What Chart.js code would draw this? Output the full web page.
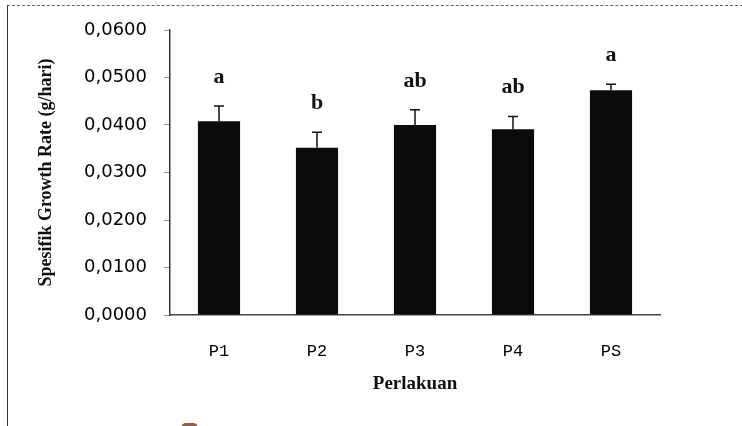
<!DOCTYPE html>
<html>
<head>
<meta charset="utf-8" />
<title>Perlakuan</title>
<script src="https://cdn.jsdelivr.net/npm/chart.js@4"></script>
<style>
  body { margin: 0; background: #fff; }
  #bingkai { position: absolute; left: 7px; top: 5px; width: 740px; height: 430px;
             border-left: 1px solid #333; border-top: 1px dashed #666; }
  #kotak { position: absolute; left: 181px; top: 423px; width: 17px; height: 10px;
           background: #a0583a; border-radius: 5px 5px 0 0; }
  #wadah { position: absolute; left: 0; top: 0; width: 742px; height: 426px; }
</style>
<script>
  // data dari gambar
  let perlakuan = ["P1", "P2", "P3", "P4", "PS"];
  let rataan = [0.0408, 0.0352, 0.0400, 0.0391, 0.0473];
  let galat = [0.0032, 0.0033, 0.0032, 0.0027, 0.0013];
  let notasi = ["a", "b", "ab", "ab", "a"];

  // galat baku + huruf notasi di atas batang
  let tambahan = {
    id: "tambahan",
    afterDatasetsDraw(chart) {
      let ctx = chart.ctx;
      let y = chart.scales.y;
      let meta = chart.getDatasetMeta(0);
      ctx.save();
      ctx.strokeStyle = "#111";
      ctx.lineWidth = 1.5;
      meta.data.forEach((bar, i) => {
        let atas = y.getPixelForValue(rataan[i] + galat[i]);
        ctx.beginPath();
        ctx.moveTo(bar.x, bar.y);
        ctx.lineTo(bar.x, atas);
        ctx.moveTo(bar.x - 5, atas);
        ctx.lineTo(bar.x + 5, atas);
        ctx.stroke();
      });
      ctx.fillStyle = "#111";
      ctx.font = "bold 22px 'Liberation Serif'";
      ctx.textAlign = "center";
      ctx.textBaseline = "alphabetic";
      meta.data.forEach((bar, i) => {
        let atas = y.getPixelForValue(rataan[i] + galat[i]);
        ctx.fillText(notasi[i], bar.x, atas - 23);
      });
      ctx.restore();
    }
  };

  window.onload = function () {
    new Chart(document.getElementById("joonis"), {
      type: "bar",
      data: {
        labels: perlakuan,
        datasets: [{
          data: rataan,
          backgroundColor: "#0b0b0b",
          borderWidth: 0,
          categoryPercentage: 1,
          barPercentage: 0.43
        }]
      },
      options: {
        responsive: false,
        animation: false,
        layout: { padding: { left: 36, top: 30, right: 82, bottom: 27 } },
        plugins: { legend: { display: false }, tooltip: { enabled: false } },
        scales: {
          y: {
            min: 0, max: 0.06,
            afterFit(s) { s.width = 134; },
            ticks: {
              stepSize: 0.01,
              padding: 17,
              color: "#000",
              font: { family: "'DejaVu Sans'", size: 18 },
              callback: v => v.toFixed(4).replace(".", ",")
            },
            grid: { drawOnChartArea: false, tickLength: 6, tickColor: "#999" },
            border: { color: "#333", width: 1.5 },
            title: {
              display: true,
              text: "Spesifik Growth Rate (g/hari)",
              color: "#111",
              font: { family: "'Liberation Serif'", size: 18, weight: "bold" },
              padding: 0
            }
          },
          x: {
            afterFit(s) { s.height = 84; },
            ticks: {
              padding: 18,
              color: "#000",
              font: { family: "'Liberation Mono'", size: 17 }
            },
            grid: { display: false },
            border: { color: "#444", width: 1.5 },
            title: {
              display: true,
              text: "Perlakuan",
              color: "#111",
              font: { family: "'Liberation Serif'", size: 19, weight: "bold" },
              padding: { top: 14 }
            }
          }
        }
      },
      plugins: [tambahan]
    });
  };
</script>
</head>
<body>
  <div id="bingkai"></div>
  <div id="kotak"></div>
  <div id="wadah"><canvas id="joonis" width="742" height="426"></canvas></div>
</body>
</html>
